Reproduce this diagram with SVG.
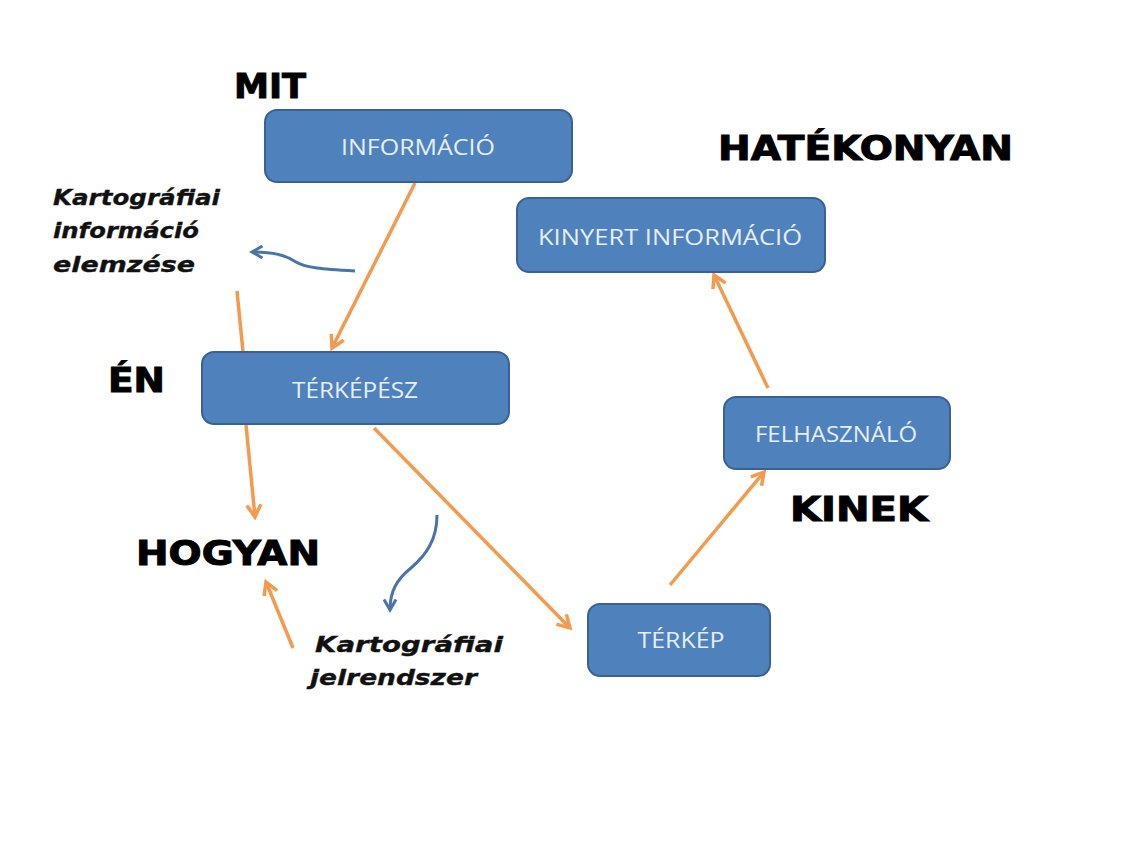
<svg xmlns="http://www.w3.org/2000/svg" width="1130" height="846" viewBox="0 0 1130 846">
<style>
.box{fill:#4f81bd;stroke:#3b6190;stroke-width:2}
.bt{font-family:"Open Sans","Liberation Sans",sans-serif;font-size:22px;fill:#e6eef8;text-anchor:middle}
.hd{font-family:"DejaVu Sans","Liberation Sans",sans-serif;font-weight:bold;font-size:33px;fill:#000;stroke:#000;stroke-width:1}
.it{font-family:"DejaVu Sans","Liberation Sans",sans-serif;font-weight:bold;font-style:italic;font-size:22px;fill:#111;stroke:#111;stroke-width:0.35}
.oa{fill:none;stroke:#f49a4f;stroke-width:3.5}
.ba{fill:none;stroke:#4a73a8;stroke-width:3}
</style>
<defs>
<marker id="ao" viewBox="0 0 10 10" refX="8" refY="5" markerWidth="5" markerHeight="5" orient="auto" markerUnits="strokeWidth">
<path d="M1,1 L8,5 L1,9" fill="none" stroke="#f49a4f" stroke-width="2"/>
</marker>
<marker id="ab" viewBox="0 0 10 10" refX="8" refY="5" markerWidth="5" markerHeight="5" orient="auto" markerUnits="strokeWidth">
<path d="M1,1 L8,5 L1,9" fill="none" stroke="#4a73a8" stroke-width="2"/>
</marker>
</defs>
<rect width="1130" height="846" fill="#fff"/>
<g id="connectors">
<line class="oa" x1="415" y1="183" x2="332" y2="348" marker-end="url(#ao)"/>
<line class="oa" x1="237" y1="291" x2="243" y2="352"/>
<line class="oa" x1="246" y1="425" x2="255" y2="517" marker-end="url(#ao)"/>
<line class="oa" x1="293" y1="648" x2="266" y2="582" marker-end="url(#ao)"/>
<line class="oa" x1="374" y1="428" x2="570" y2="628" marker-end="url(#ao)"/>
<line class="oa" x1="670" y1="585" x2="764" y2="472" marker-end="url(#ao)"/>
<line class="oa" x1="768" y1="388" x2="714" y2="275" marker-end="url(#ao)"/>
<path class="ba" d="M355,271 C322,269 306,268 296,262 C285,255 274,252 252,252" marker-end="url(#ab)"/>
<path class="ba" d="M437,515 C437,540 426,555 411,568 C396,580 390,592 390,610" marker-end="url(#ab)"/>
</g>
<g id="informacio">
<rect class="box" x="265" y="110" width="307" height="72" rx="12"/>
<text class="bt" x="418" y="155" textLength="154" lengthAdjust="spacingAndGlyphs">INFORMÁCIÓ</text>
</g>
<g id="kinyert">
<rect class="box" x="517" y="198" width="308" height="74" rx="12"/>
<text class="bt" x="670" y="245" textLength="264" lengthAdjust="spacingAndGlyphs">KINYERT INFORMÁCIÓ</text>
</g>
<g id="terkepesz">
<rect class="box" x="202" y="352" width="307" height="72" rx="12"/>
<text class="bt" x="355" y="398" textLength="126" lengthAdjust="spacingAndGlyphs">TÉRKÉPÉSZ</text>
</g>
<g id="felhasznalo">
<rect class="box" x="724" y="397" width="226" height="72" rx="12"/>
<text class="bt" x="836" y="442" textLength="162" lengthAdjust="spacingAndGlyphs">FELHASZNÁLÓ</text>
</g>
<g id="terkep">
<rect class="box" x="588" y="604" width="182" height="72" rx="12"/>
<text class="bt" x="681" y="648" textLength="87" lengthAdjust="spacingAndGlyphs">TÉRKÉP</text>
</g>
<g id="labels">
<text class="hd" x="234" y="98" textLength="72" lengthAdjust="spacingAndGlyphs">MIT</text>
<text class="hd" x="718" y="160" textLength="295" lengthAdjust="spacingAndGlyphs">HATÉKONYAN</text>
<text class="hd" x="108" y="392" textLength="57" lengthAdjust="spacingAndGlyphs">ÉN</text>
<text class="hd" x="136" y="565" textLength="184" lengthAdjust="spacingAndGlyphs">HOGYAN</text>
<text class="hd" x="790" y="521" textLength="138" lengthAdjust="spacingAndGlyphs">KINEK</text>
<text class="it" x="53" y="205" textLength="167" lengthAdjust="spacingAndGlyphs">Kartográfiai</text>
<text class="it" x="53" y="238" textLength="146" lengthAdjust="spacingAndGlyphs">információ</text>
<text class="it" x="53" y="272" textLength="142" lengthAdjust="spacingAndGlyphs">elemzése</text>
<text class="it" x="315" y="652" textLength="188" lengthAdjust="spacingAndGlyphs">Kartográfiai</text>
<text class="it" x="310" y="685" textLength="167" lengthAdjust="spacingAndGlyphs">jelrendszer</text>
</g>
</svg>
